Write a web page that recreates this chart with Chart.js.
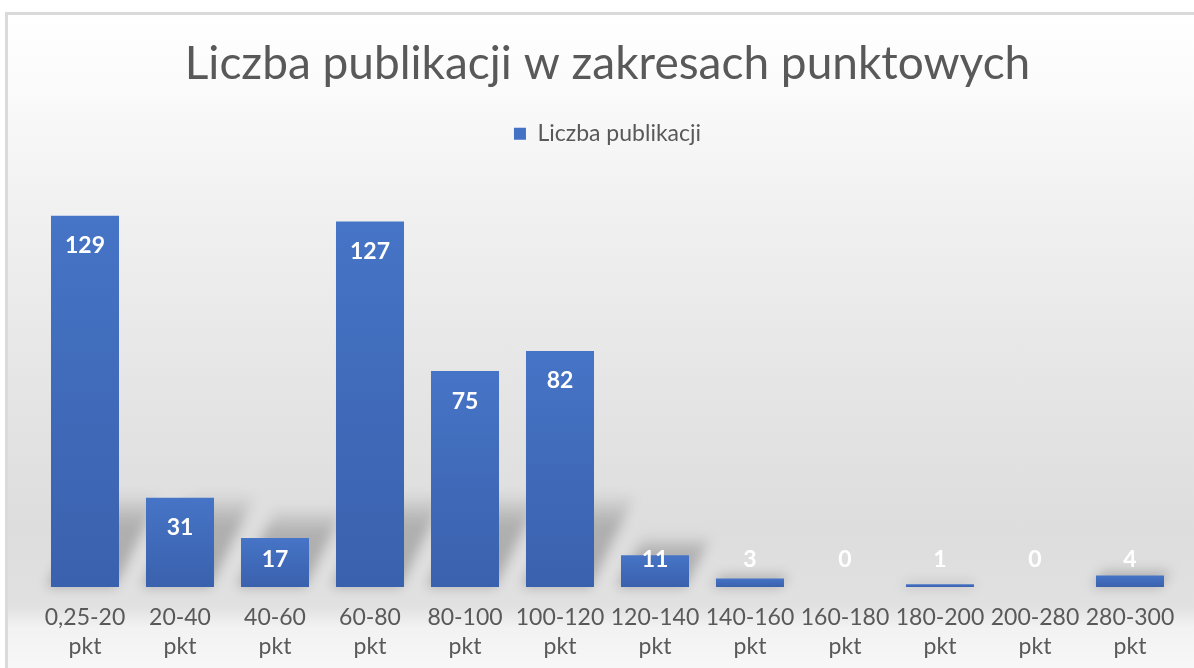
<!DOCTYPE html>
<html>
<head>
<meta charset="utf-8">
<script src="https://cdn.jsdelivr.net/npm/chart.js@4"></script>
<style>
  html, body { margin: 0; padding: 0; background: #ffffff; overflow: hidden; }
  #box {
    position: absolute; left: 5px; top: 12px;
    width: 1200px; height: 680px;
    border: 3px solid #dadada;
    background: linear-gradient(to bottom,
      #ffffff 0%, #fbfbfb 10%, #f1f1f1 28%, #e7e7e7 50%,
      #dddddd 76%, #e1e1e1 87%, #f2f2f2 90%, #fbfbfb 100%);
  }
  canvas { display: block; }
</style>
</head>
<body>
<div id="box"><canvas id="chart" width="1200" height="680"></canvas></div>
<script>
const chartTitle = 'Liczba publikacji w zakresach punktowych';
const seriesName = 'Liczba publikacji';
const categories = [
  ['0,25-20', 'pkt'], ['20-40', 'pkt'], ['40-60', 'pkt'], ['60-80', 'pkt'],
  ['80-100', 'pkt'], ['100-120', 'pkt'], ['120-140', 'pkt'], ['140-160', 'pkt'],
  ['160-180', 'pkt'], ['180-200', 'pkt'], ['200-280', 'pkt'], ['280-300', 'pkt']
];
const counts = [129, 31, 17, 127, 75, 82, 11, 3, 0, 1, 0, 4];

const textColor = '#595959';
const fontFamily = 'Lato, "Open Sans", sans-serif';

function barFill(c) {
  const chart = c.chart;
  const y = chart.scales.y;
  if (!chart.chartArea || !y || c.type !== 'data' || c.parsed == null) return '#4472c4';
  const top = y.getPixelForValue(c.parsed.y);
  const base = y.getPixelForValue(0);
  if (base - top < 2) return '#3d66b4';
  const g = chart.ctx.createLinearGradient(0, top, 0, base);
  g.addColorStop(0, '#4674c6');
  g.addColorStop(1, '#3a61ad');
  return g;
}

// soft perspective shadow behind each bar, leaning up and to the right
const barShadow = {
  id: 'barShadow',
  beforeDatasetsDraw(chart) {
    const ctx = chart.ctx;
    chart.getDatasetMeta(0).data.forEach((bar) => {
      const h = bar.base - bar.y;
      if (h < 1) return;
      const rise = Math.min(h * 1.6, 92);
      const x0 = bar.x - bar.width / 2;
      const x1 = bar.x + bar.width / 2;
      ctx.save();
      ctx.filter = 'blur(6px)';
      const g = ctx.createLinearGradient(0, bar.base, 0, bar.base - rise);
      g.addColorStop(0, 'rgba(0,0,0,0.24)');
      g.addColorStop(0.7, 'rgba(0,0,0,0.2)');
      g.addColorStop(1, 'rgba(0,0,0,0.02)');
      ctx.fillStyle = g;
      ctx.beginPath();
      ctx.moveTo(x0 - 4, bar.base);
      ctx.lineTo(x1 - 4, bar.base);
      ctx.lineTo(x1 + rise * 0.45, bar.base - rise);
      ctx.lineTo(x0 + rise * 0.45, bar.base - rise);
      ctx.closePath();
      ctx.fill();
      ctx.restore();
    });
  }
};

// value labels inside the top of each bar
const valueLabels = {
  id: 'valueLabels',
  afterDatasetsDraw(chart) {
    const ctx = chart.ctx;
    const ds = chart.data.datasets[0];
    ctx.save();
    ctx.fillStyle = '#ffffff';
    ctx.font = 'bold 23px ' + fontFamily;
    ctx.textAlign = 'center';
    ctx.textBaseline = 'middle';
    chart.getDatasetMeta(0).data.forEach((bar, i) => {
      const y = Math.min(bar.y + 30, bar.base - 27);
      ctx.fillText(String(ds.data[i]), bar.x, y);
    });
    ctx.restore();
  }
};

new Chart(document.getElementById('chart'), {
  type: 'bar',
  data: {
    labels: categories,
    datasets: [{
      label: seriesName,
      data: counts,
      backgroundColor: barFill,
      borderWidth: 0,
      categoryPercentage: 1,
      barPercentage: 0.716
    }]
  },
  options: {
    responsive: false,
    animation: false,
    layout: { padding: { top: 22, left: 29.5, right: 30.5, bottom: 18 } },
    plugins: {
      title: {
        display: true,
        text: chartTitle,
        color: textColor,
        font: { family: fontFamily, size: 46, weight: 'normal' },
        padding: { top: 0, bottom: 20 }
      },
      legend: {
        display: true,
        labels: {
          color: textColor,
          font: { family: fontFamily, size: 23 },
          boxWidth: 12,
          boxHeight: 12,
          padding: 10,
          generateLabels: () => [{
            text: seriesName,
            fillStyle: '#4472c4',
            strokeStyle: '#4472c4',
            lineWidth: 0,
            fontColor: textColor,
            datasetIndex: 0
          }]
        }
      },
      tooltip: { enabled: false }
    },
    scales: {
      x: {
        grid: { display: false, drawTicks: false },
        border: { display: false },
        ticks: {
          color: textColor,
          font: { family: fontFamily, size: 23, lineHeight: 1.26 },
          padding: 16,
          maxRotation: 0,
          autoSkip: false
        }
      },
      y: { display: false, min: 0, max: 150 }
    }
  },
  plugins: [barShadow, valueLabels]
});
</script>
</body>
</html>
